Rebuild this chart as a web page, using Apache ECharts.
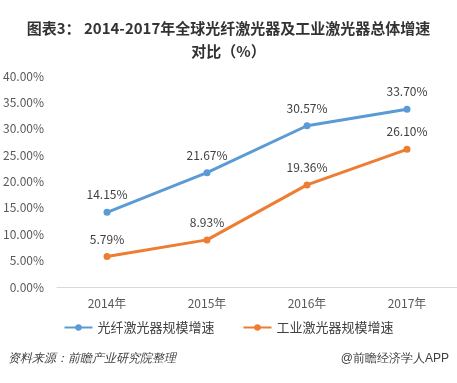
<!DOCTYPE html>
<html><head><meta charset="utf-8">
<script src="https://cdn.jsdelivr.net/npm/echarts@6/dist/echarts.min.js"></script>
<style>html,body{margin:0;padding:0;background:#fff;}#c{width:457px;height:383px;}</style>
</head><body><div id="c"></div>
<script>
const categories = ['2014年','2015年','2016年','2017年'];
const fiberLaser = [14.15, 21.67, 30.57, 33.70];
const industrialLaser = [5.79, 8.93, 19.36, 26.10];
const seriesNames = ['光纤激光器规模增速','工业激光器规模增速'];
const yTicks = {min:0, max:40, interval:5};

const chart = echarts.init(document.getElementById('c'));
const font = '"Microsoft YaHei","Noto Sans CJK SC",sans-serif';
chart.setOption({
  animation:false,
  textStyle:{fontFamily:font},
  title:{
    text:'图表3： 2014-2017年全球光纤激光器及工业激光器总体增速\n对比（%）',
    left:'center', top:12,
    textStyle:{fontSize:15, fontWeight:'bold', color:'#333', lineHeight:23, fontFamily:font}
  },
  legend:{
    bottom:44, left:'center', itemGap:28, itemWidth:28, itemHeight:8,
    textStyle:{fontSize:13, color:'#404040', fontFamily:font},
    data:seriesNames
  },
  grid:{left:52, top:76, width:408, height:211, containLabel:false},
  xAxis:{
    type:'category', data:categories,
    axisLine:{lineStyle:{color:'#d9d9d9'}},
    axisTick:{show:false},
    axisLabel:{color:'#595959', fontSize:12, margin:10}
  },
  yAxis:{
    type:'value', min:yTicks.min, max:yTicks.max, interval:yTicks.interval,
    splitLine:{show:false}, axisLine:{show:false}, axisTick:{show:false},
    axisLabel:{color:'#595959', fontSize:12, margin:13, formatter:v=>v.toFixed(2)+'%'}
  },
  series:[
    {name:seriesNames[0], type:'line', data:fiberLaser, symbol:'circle', symbolSize:7,
     itemStyle:{color:'#5b9bd5'}, lineStyle:{width:3, color:'#5b9bd5'},
     label:{show:true, position:'top', distance:8, color:'#404040', fontSize:12, formatter:p=>p.value.toFixed(2)+'%'}},
    {name:seriesNames[1], type:'line', data:industrialLaser, symbol:'circle', symbolSize:7,
     itemStyle:{color:'#ed7d31'}, lineStyle:{width:3, color:'#ed7d31'},
     label:{show:true, position:'top', distance:8, color:'#404040', fontSize:12, formatter:p=>p.value.toFixed(2)+'%'}}
  ],
  graphic:[
    {type:'text', left:8, top:353, style:{text:'资料来源：前瞻产业研究院整理', fontSize:12, fontStyle:'italic', fill:'#404040', font:'italic 12px '+font}},
    {type:'text', right:8, top:353, style:{text:'@前瞻经济学人APP', fontSize:12, fill:'#404040', font:'12px '+font}}
  ]
});
</script></body></html>
